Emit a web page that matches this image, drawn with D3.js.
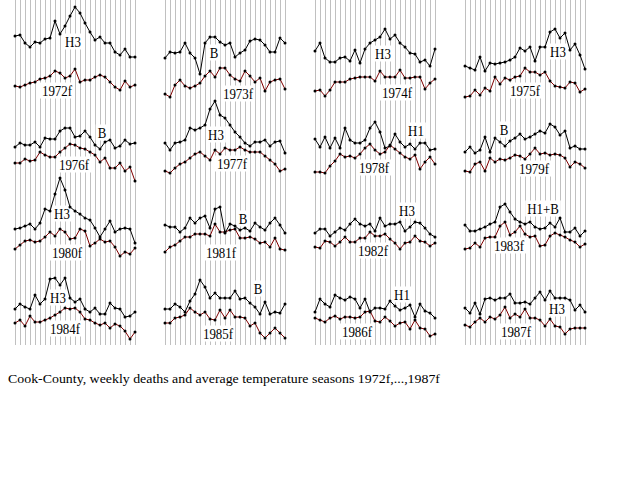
<!DOCTYPE html>
<html>
<head>
<meta charset="UTF-8">
<title>Cook-County weekly deaths</title>
<script src="https://cdn.jsdelivr.net/npm/d3@7/dist/d3.min.js"></script>
<style type="text/css">
	body{ margin:0; background:#fff; }
	svg text{ font-family:"Liberation Serif","DejaVu Serif",serif; fill:#000; }
</style>
</head>
<body>
<script>
// weeks of the season (index along the x axis)
var weeks = [0,1,2,3,4,5,6,7,8,9,10,11,12,13,14,15,16,17,18,19,20,21,22,23,24];

var seasons = ["1972f","1973f","1974f","1975f","1976f","1977f","1978f","1979f",
               "1980f","1981f","1982f","1983f","1984f","1985f","1986f","1987f"];
var virus   = ["H3","B","H3","H3","B","H3","H1","B","H3","B","H3","H1+B","H3","B","H1","H3"];

// weekly deaths (level within panel)
var deaths1972 = [64,65,57,53,58,57,61,62,79,66,74,84,93,87,77,68,60,63,57,57,48,45,51,43,43];
var deaths1973 = [42,48,47,48,57,47,42,26,57,63,63,58,55,57,43,47,50,59,61,60,55,48,48,62,57];
var deaths1974 = [49,57,42,38,38,42,43,39,50,37,51,57,60,63,71,61,65,57,53,47,46,38,40,34,51];
var deaths1975 = [34,32,30,43,29,37,36,37,38,40,43,52,49,53,39,53,53,68,71,62,67,50,56,45,31];
var deaths1976 = [38,42,40,40,43,38,47,46,46,54,57,57,48,49,54,48,40,36,43,45,37,39,45,41,42];
var deaths1977 = [42,35,42,43,45,57,55,57,60,76,84,70,67,60,53,48,42,39,43,43,45,39,43,44,32];
var deaths1978 = [46,38,48,37,47,37,57,45,42,42,45,57,63,53,37,39,51,43,38,41,36,42,42,35,36];
var deaths1979 = [33,38,32,35,48,33,47,43,39,44,47,51,46,48,51,54,52,61,58,50,54,37,39,36,36];
var deaths1980 = [41,42,44,46,41,47,61,59,76,92,80,63,59,56,52,50,42,33,41,49,38,41,42,41,27];
var deaths1981 = [45,43,43,38,42,52,47,52,54,42,61,63,37,46,44,40,42,39,47,43,40,47,52,45,37];
var deaths1982 = [37,41,41,34,38,42,40,46,51,46,44,46,39,52,44,46,46,48,39,43,48,47,42,36,33];
var deaths1983 = [45,39,39,41,43,46,48,63,66,58,51,48,46,48,43,41,42,47,43,52,38,38,42,34,39];
var deaths1984 = [46,51,48,46,60,51,56,76,77,70,77,57,53,56,46,43,47,41,41,52,47,46,38,39,43];
var deaths1985 = [46,46,51,48,43,54,61,75,68,57,62,57,57,57,64,56,57,52,48,41,53,41,43,42,51];
var deaths1986 = [43,56,51,48,60,57,55,58,56,47,56,43,47,47,46,54,49,45,47,50,38,51,44,42,37];
var deaths1987 = [47,42,52,41,56,57,55,57,57,61,52,52,53,51,57,63,55,64,57,57,57,55,45,50,43];

// weekly average temperature (level within panel)
var temp1972 = [14,13,15,17,18,21,22,24,29,27,22,24,31,18,20,20,23,25,23,18,13,10,19,13,15];
var temp1973 = [6,3,15,20,14,12,14,17,24,29,23,32,32,25,21,19,29,24,18,22,9,18,20,21,11];
var temp1974 = [9,10,4,10,18,18,18,21,22,23,23,23,19,29,23,23,23,30,22,22,23,23,11,17,21];
var temp1975 = [3,4,10,5,12,9,23,16,22,20,23,24,32,28,28,25,28,19,14,13,12,18,17,8,11];
var temp1976 = [22,22,26,24,25,33,30,28,28,33,37,41,40,37,36,33,30,23,27,17,17,22,14,18,4];
var temp1977 = [14,12,17,21,23,27,31,33,29,25,35,31,37,35,35,38,35,33,33,33,29,25,21,14,16];
var temp1978 = [13,13,12,19,24,31,28,29,27,31,37,41,35,31,33,40,36,32,28,26,30,16,23,28,21];
var temp1979 = [14,13,21,23,14,27,23,26,25,27,30,29,26,31,37,31,32,30,31,30,27,18,23,21,17];
var temp1980 = [21,25,29,30,28,29,33,38,34,41,38,31,32,41,39,24,27,31,28,29,23,14,18,16,22];
var temp1981 = [18,23,25,29,33,33,36,36,36,34,46,38,38,40,41,32,32,33,31,27,28,23,32,21,20];
var temp1982 = [23,22,29,28,24,28,33,28,28,32,32,38,34,34,36,31,27,21,27,28,34,29,28,24,27];
var temp1983 = [21,22,27,23,32,33,33,44,48,35,38,44,36,33,34,24,25,34,37,35,33,30,28,23,26];
var temp1984 = [32,35,29,39,33,33,35,37,40,43,47,46,47,43,36,35,32,30,32,27,31,29,24,16,23];
var temp1985 = [32,32,37,38,40,47,43,40,43,36,35,45,37,45,38,38,37,29,32,22,17,22,27,22,17];
var temp1986 = [37,35,33,37,39,36,38,38,37,38,43,44,34,33,38,34,29,32,33,26,35,27,26,19,21];
var temp1987 = [30,28,33,37,33,38,36,40,48,37,41,38,46,37,37,35,29,36,29,28,21,26,27,27,27];

// where the labels sit, as [week, level]
var virusAt  = [[11.6,59],[9.8,48],[13.6,47],[18.6,49],[17.4,53],[10.2,51],[20.2,55],[7.8,56],
                [9.4,57],[15.6,52],[18.4,60],[15.6,62],[8.6,58],[18.6,67],[17.4,61],[18.4,47]];
var seasonAt = [[8.4,10],[14.6,7],[16.4,8],[12,10],[11.8,21],[13.4,22],[11.8,18],[13.8,17],
                [10.4,18],[11.2,18],[11.6,20],[8.8,25],[10,27],[10.6,22],[8.4,24],[10.2,24]];

var deathSeries = [deaths1972,deaths1973,deaths1974,deaths1975,deaths1976,deaths1977,deaths1978,deaths1979,
                   deaths1980,deaths1981,deaths1982,deaths1983,deaths1984,deaths1985,deaths1986,deaths1987];
var tempSeries  = [temp1972,temp1973,temp1974,temp1975,temp1976,temp1977,temp1978,temp1979,
                   temp1980,temp1981,temp1982,temp1983,temp1984,temp1985,temp1986,temp1987];

var width = 640, height = 480;
var colLeft = [15,165,315,465];
var rowTop = [0,85,170,255];

var svg = d3.select("body").append("svg")
	.attr("width", width)
	.attr("height", height);

var gridLayer = svg.append("g");
var labelLayer = svg.append("g");
var lineLayer = svg.append("g");

// vertical week grid, one comb per column, running through all rows
colLeft.forEach(function(left){
	var x = d3.scaleLinear().domain([0,24]).range([left, left+120]);
	gridLayer.selectAll(null)
		.data(weeks)
		.enter().append("line")
		.attr("x1", function(d){ return Math.round(x(d)) + 0.5; })
		.attr("x2", function(d){ return Math.round(x(d)) + 0.5; })
		.attr("y1", 0)
		.attr("y2", 345)
		.attr("stroke", "#c0c0c0")
		.attr("stroke-width", 1)
		.attr("shape-rendering", "crispEdges");
});

// text on a white patch, a bit narrow like the old bitmap font
function label(txt, pos, x, y){
	var g = labelLayer.append("g");
	var t = g.append("text")
		.attr("x", x(pos[0]))
		.attr("y", y(pos[1]) + 5.5)
		.attr("text-anchor", "middle")
		.attr("font-size", "15px")
		.text(txt);
	var len = t.node().getComputedTextLength();
	t.attr("textLength", len * 0.86).attr("lengthAdjust", "spacingAndGlyphs");
	var b = t.node().getBBox();
	g.insert("rect", "text")
		.attr("x", b.x - 2)
		.attr("y", b.y)
		.attr("width", b.width + 4)
		.attr("height", b.height)
		.attr("fill", "#fff");
}

seasons.forEach(function(name, k){
	var col = k % 4, row = Math.floor(k / 4);
	var x = d3.scaleLinear().domain([0,24]).range([colLeft[col], colLeft[col]+120]);
	var y = d3.scaleLinear().domain([0,100]).range([rowTop[row]+100, rowTop[row]]);

	label(virus[k], virusAt[k], x, y);
	label(name, seasonAt[k], x, y);

	var line = d3.line()
		.x(function(d,i){ return x(weeks[i]); })
		.y(function(d){ return y(d); });

	[[tempSeries[k], "#800000"], [deathSeries[k], "#000"]].forEach(function(s){
		lineLayer.append("path")
			.datum(s[0])
			.attr("d", line)
			.attr("fill", "none")
			.attr("stroke", s[1])
			.attr("stroke-width", 1);
		lineLayer.selectAll(null)
			.data(s[0])
			.enter().append("circle")
			.attr("cx", function(d,i){ return x(weeks[i]); })
			.attr("cy", function(d){ return y(d); })
			.attr("r", 1.5)
			.attr("fill", "#000");
	});
});

svg.append("text")
	.attr("x", 8)
	.attr("y", 383)
	.attr("font-size", "13px")
	.attr("textLength", 432)
	.attr("lengthAdjust", "spacingAndGlyphs")
	.text("Cook-County, weekly deaths and average temperature seasons 1972f,...,1987f");
</script>
</body>
</html>
